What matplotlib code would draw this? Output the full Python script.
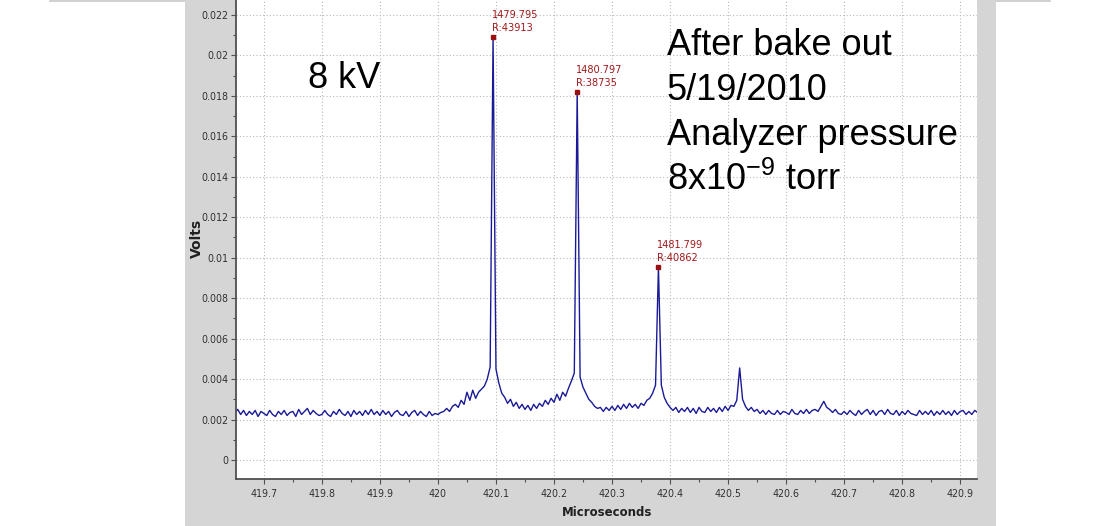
import numpy as np
import matplotlib
matplotlib.use("Agg")
import matplotlib.pyplot as plt
from matplotlib.patches import Rectangle
from matplotlib.lines import Line2D
from matplotlib.ticker import MultipleLocator, FuncFormatter

# --------------------------------------------------------------------------------
# Data (trace, millivolts, 0.005 us sampling)
# --------------------------------------------------------------------------------
t_start = 419.65
t_step = 0.005

baseline_left = [
    2.35, 2.5, 2.25, 2.45, 2.2, 2.4, 2.25, 2.45, 2.15, 2.4,
    2.3, 2.2, 2.45, 2.25, 2.15, 2.4, 2.25, 2.45, 2.2, 2.35,
    2.4, 2.15, 2.5, 2.25, 2.4, 2.55, 2.25, 2.45, 2.3, 2.2,
    2.25, 2.45, 2.25, 2.15, 2.4, 2.25, 2.5, 2.3, 2.2, 2.4,
    2.15, 2.45, 2.25, 2.4, 2.2, 2.45, 2.25, 2.5, 2.25, 2.4,
    2.2, 2.45, 2.25, 2.4, 2.15, 2.35, 2.45, 2.25, 2.2, 2.4,
    2.15, 2.35, 2.45, 2.2, 2.4, 2.25, 2.15, 2.4, 2.2, 2.3,
    2.25,
]
peak_region = [
    2.35, 2.4, 2.55, 2.4, 2.65, 2.75, 2.6, 2.95, 2.75, 3.35,
    2.95, 3.45, 3.05, 3.35, 3.5, 3.65, 4.0, 4.6, 20.9, 4.5,
    3.8, 3.3, 3.1, 2.8, 3.0, 2.65, 2.85, 2.55, 2.75, 2.5,
    2.7, 2.45, 2.75, 2.55, 2.8, 2.65, 2.95, 2.75, 3.05, 2.85,
    3.25, 2.95, 3.35, 3.15, 3.55, 3.9, 4.3, 18.2, 4.1, 3.6,
    3.3, 3.0, 2.85, 2.65, 2.55, 2.6, 2.4, 2.6, 2.45, 2.65,
    2.45, 2.7, 2.5, 2.75, 2.55, 2.8, 2.6, 2.75, 2.55, 2.8,
    2.7, 2.95, 3.05, 3.3, 3.7, 9.54, 3.7, 3.1, 2.8, 2.6,
    2.45, 2.6, 2.35, 2.55, 2.4, 2.6, 2.35, 2.55, 2.3, 2.6,
    2.4, 2.35, 2.6, 2.4, 2.55, 2.35, 2.6, 2.4, 2.65, 2.45,
    2.7, 2.65, 2.95, 4.55, 3.0, 2.65, 2.45, 2.6, 2.4, 2.5,
    2.3, 2.45, 2.25, 2.45, 2.3, 2.25, 2.45, 2.25, 2.4, 2.35,
    2.25, 2.5, 2.3, 2.25, 2.45, 2.3, 2.5, 2.3, 2.45, 2.5,
    2.4, 2.65, 2.9, 2.6, 2.5, 2.35, 2.5, 2.3, 2.25, 2.4,
]
baseline_right = [
    2.25, 2.45, 2.3, 2.2, 2.45, 2.25, 2.4, 2.5, 2.25, 2.45,
    2.2, 2.4, 2.45, 2.25, 2.5, 2.3, 2.25, 2.45, 2.2, 2.4,
    2.25, 2.45, 2.3, 2.25, 2.2, 2.45, 2.25, 2.4, 2.25, 2.45,
    2.2, 2.4, 2.25, 2.45, 2.25, 2.4, 2.2, 2.45, 2.25, 2.4,
    2.45, 2.25, 2.4, 2.25, 2.45, 2.35,
]

# labelled peaks: time, mass, resolution
peak_times = [420.095, 420.24, 420.38]
peak_masses = ["1479.795", "1480.797", "1481.799"]
peak_res = ["R:43913", "R:38735", "R:40862"]

volts = np.array(baseline_left + peak_region + baseline_right) / 1000.0
micros = t_start + t_step * np.arange(len(volts))

# --------------------------------------------------------------------------------
# Figure
# --------------------------------------------------------------------------------
W, H = 1106, 526
fig = plt.figure(figsize=(W / 100, H / 100), dpi=100, facecolor="white")

# grey panel behind the plot, like the screenshot
fig.patches.append(Rectangle((185 / W, 0), (996 - 185) / W, 1,
                             transform=fig.transFigure, facecolor="#d5d5d5",
                             edgecolor="none", zorder=-5))
fig.lines.append(Line2D([50 / W, 1050 / W], [1 - 0.6 / H, 1 - 0.6 / H],
                        transform=fig.transFigure, color="#c8c8c8", lw=1.2,
                        zorder=-5))

ax = fig.add_axes([236 / W, 1 - 479 / H, (977 - 236) / W, 479 / H])
ax.set_zorder(1)
ax.set_facecolor("white")

ax.plot(micros, volts, color="#1a1a98", lw=1.0)

for t, m, r in zip(peak_times, peak_masses, peak_res):
    i = int(np.argmin(np.abs(micros - t)))
    ax.plot(micros[i], volts[i], "s", color="#9a0f0f", ms=3, zorder=5)
    ax.annotate(f"{m}\n{r}", (micros[i], volts[i]), xytext=(-1, 3),
                textcoords="offset points", ha="left", va="bottom",
                color="#a01818", fontsize=7.8, fontstretch="condensed",
                linespacing=1.35)

ax.set_xlim(419.652, 420.929)
ax.set_ylim(-0.00094, 0.02274)

ax.xaxis.set_major_locator(MultipleLocator(0.1))
ax.xaxis.set_minor_locator(MultipleLocator(0.05))
ax.yaxis.set_major_locator(MultipleLocator(0.002))
ax.yaxis.set_minor_locator(MultipleLocator(0.001))
ax.xaxis.set_major_formatter(FuncFormatter(lambda v, p: f"{v:g}"))
ax.yaxis.set_major_formatter(FuncFormatter(lambda v, p: f"{round(v, 4):g}"))

ax.grid(True, which="major", color="#b8b8b8", lw=0.8, linestyle=(0, (1, 2)))
for s in ["top", "right"]:
    ax.spines[s].set_visible(False)
for s in ["left", "bottom"]:
    ax.spines[s].set_color("#505050")
    ax.spines[s].set_linewidth(1.3)

ax.tick_params(which="major", length=3.5, width=0.8, color="#505050",
               labelsize=7.6, labelcolor="#303030", pad=2)
ax.tick_params(axis="x", which="major", pad=4)
ax.tick_params(which="minor", length=2, width=0.8, color="#505050")
for lab in ax.get_xticklabels() + ax.get_yticklabels():
    lab.set_fontstretch("condensed")

fig.text(197 / W, 1 - 238 / H, "Volts", rotation=90, ha="center",
         va="center", fontsize=10, weight="bold", color="#202020")
fig.text(607 / W, 1 - 512 / H, "Microseconds", ha="center", va="center",
         fontsize=8.5, weight="bold", color="#202020")

# slide annotations
plt.rcParams["mathtext.fontset"] = "custom"
plt.rcParams["mathtext.rm"] = "Liberation Sans"
plt.rcParams["mathtext.it"] = "Liberation Sans"
big = dict(fontsize=26, family="Liberation Sans", color="black",
           ha="left", va="baseline", zorder=5)
fig.text(308 / W, 1 - 88 / H, "8 kV", **big)
fig.text(667 / W, 1 - 55 / H, "After bake out", **big)
fig.text(667 / W, 1 - 100 / H, "5/19/2010", **big)
fig.text(667 / W, 1 - 145 / H, "Analyzer pressure", **big)
fig.text(667 / W, 1 - 190 / H, r"8x10$^{\mathregular{-9}}$ torr", **big)

fig.savefig("out.png", dpi=100, facecolor="white")
